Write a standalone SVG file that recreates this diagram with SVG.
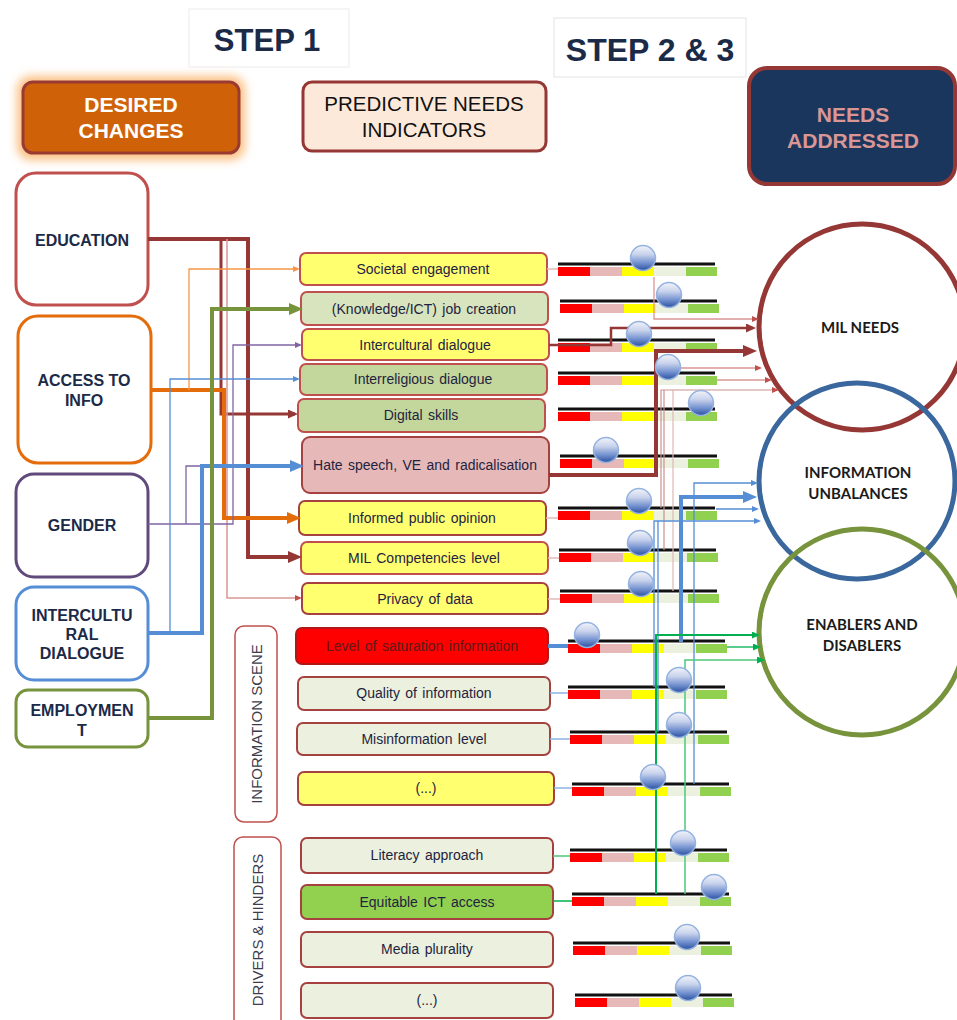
<svg xmlns="http://www.w3.org/2000/svg" width="957" height="1020" viewBox="0 0 957 1020">
  <style>
    .hdr { font-family: "Liberation Sans", Arial, sans-serif; font-weight: bold; fill: #1b2a47; text-anchor: middle; }
    .lbl { font-family: "Liberation Sans", Arial, sans-serif; font-weight: bold; font-size: 16px; fill: #1b2a47; text-anchor: middle; }
    .ind { font-family: "Liberation Sans", Arial, sans-serif; font-size: 14px; fill: #1f2340; text-anchor: middle; word-spacing: 1.5px; }
    .vert { font-family: "Liberation Sans", Arial, sans-serif; font-size: 15px; fill: #3c3c4c; text-anchor: middle; }
    .circ { font-family: Lato, "Liberation Sans", sans-serif; font-weight: bold; font-size: 15px; fill: #1a1a1a; text-anchor: middle; }
    .src { fill: #ffffff; stroke-width: 3; }
    .box { stroke: #c0504d; stroke-width: 2; }
    .box2 { stroke: #a5423f; stroke-width: 2; }
    .yel { fill: #ffff70; }
    .lgn { fill: #d7e4bd; }
    .mgn { fill: #c3d69b; }
    .pnk { fill: #e6b9b8; }
    .pal { fill: #ebf1de; }
    .grp { fill: #ffffff; stroke: #c0504d; stroke-width: 1.5; }
    .bar { stroke: #111111; stroke-width: 3; }
    .knob { fill: url(#knobFill); stroke: #93b2df; stroke-width: 1.5; }
    .c { fill: none; stroke-linejoin: miter; }
  </style>
  <defs>
    <filter id="glow" x="-20%" y="-40%" width="140%" height="180%">
      <feGaussianBlur stdDeviation="5"/>
    </filter>
    <linearGradient id="knobFill" x1="0" y1="0" x2="0" y2="1">
      <stop offset="0" stop-color="#f2f4fa"/>
      <stop offset="0.35" stop-color="#c9d3ec"/>
      <stop offset="0.7" stop-color="#7391cf"/>
      <stop offset="1" stop-color="#2b50a0"/>
    </linearGradient>
    <!-- segmented scale used by every slider -->
    <g id="scale">
      <rect x="0" y="3" width="32" height="9" fill="#ff0000"/>
      <rect x="32" y="3" width="32" height="9" fill="#e6b9b8"/>
      <rect x="64" y="3" width="32" height="9" fill="#ffff00"/>
      <rect x="96" y="3" width="32" height="9" fill="#ebf1de"/>
      <rect x="128" y="3" width="31" height="9" fill="#92d050"/>
      <line x1="0" y1="0" x2="157" y2="0" class="bar"/>
    </g>
    <marker id="aDrT" viewBox="0 0 14 12" markerWidth="14" markerHeight="12" refX="9" refY="6" orient="auto" markerUnits="userSpaceOnUse"><path d="M0,0 L14,6 L0,12 z" fill="#953735"/></marker>
    <marker id="aDr" viewBox="0 0 10 9" markerWidth="10" markerHeight="9" refX="7" refY="4.5" orient="auto" markerUnits="userSpaceOnUse"><path d="M0,0 L10,4.5 L0,9 z" fill="#953735"/></marker>
    <marker id="aPk" viewBox="0 0 7 6" markerWidth="7" markerHeight="6" refX="5" refY="3" orient="auto" markerUnits="userSpaceOnUse"><path d="M0,0 L7,3 L0,6 z" fill="#c0504d"/></marker>
    <marker id="aOrT" viewBox="0 0 14 12" markerWidth="14" markerHeight="12" refX="9" refY="6" orient="auto" markerUnits="userSpaceOnUse"><path d="M0,0 L14,6 L0,12 z" fill="#e46c0a"/></marker>
    <marker id="aOr" viewBox="0 0 7 6" markerWidth="7" markerHeight="6" refX="5" refY="3" orient="auto" markerUnits="userSpaceOnUse"><path d="M0,0 L7,3 L0,6 z" fill="#f79646"/></marker>
    <marker id="aPu" viewBox="0 0 7 6" markerWidth="7" markerHeight="6" refX="5" refY="3" orient="auto" markerUnits="userSpaceOnUse"><path d="M0,0 L7,3 L0,6 z" fill="#8064a2"/></marker>
    <marker id="aBlT" viewBox="0 0 14 12" markerWidth="14" markerHeight="12" refX="9" refY="6" orient="auto" markerUnits="userSpaceOnUse"><path d="M0,0 L14,6 L0,12 z" fill="#558ed5"/></marker>
    <marker id="aBl" viewBox="0 0 7 6" markerWidth="7" markerHeight="6" refX="5" refY="3" orient="auto" markerUnits="userSpaceOnUse"><path d="M0,0 L7,3 L0,6 z" fill="#558ed5"/></marker>
    <marker id="aOlT" viewBox="0 0 14 12" markerWidth="14" markerHeight="12" refX="9" refY="6" orient="auto" markerUnits="userSpaceOnUse"><path d="M0,0 L14,6 L0,12 z" fill="#77933c"/></marker>
    <marker id="aGn" viewBox="0 0 8 7" markerWidth="8" markerHeight="7" refX="6" refY="3.5" orient="auto" markerUnits="userSpaceOnUse"><path d="M0,0 L8,3.5 L0,7 z" fill="#00b050"/></marker>
  </defs>

  <rect width="957" height="1020" fill="#ffffff"/>

  <!-- column headers -->
  <g id="step1">
    <rect x="189" y="9" width="160" height="58" fill="#ffffff" stroke="#ebebeb" stroke-width="1"/>
    <text x="267" y="51" class="hdr" font-size="31">STEP 1</text>
  </g>
  <g id="step23">
    <rect x="554" y="18" width="192" height="59" fill="#ffffff" stroke="#e3e3e3" stroke-width="1"/>
    <text x="650" y="61" class="hdr" font-size="32">STEP 2 &amp; 3</text>
  </g>
  <g id="desired-changes">
    <rect x="17" y="76" width="228" height="84" rx="14" fill="#fbbf82" filter="url(#glow)"/>
    <rect x="23" y="82" width="216" height="71" rx="10" fill="#cf6208" stroke="#9b3a32" stroke-width="3"/>
    <text x="131" y="112" class="hdr" font-size="21" style="fill:#ffffff">DESIRED</text>
    <text x="131" y="138" class="hdr" font-size="21" style="fill:#ffffff">CHANGES</text>
  </g>
  <g id="predictive-needs">
    <rect x="303" y="82" width="243" height="69" rx="9" fill="#fde9d9" stroke="#953735" stroke-width="3"/>
    <text x="424" y="111" font-family="Liberation Sans, Arial, sans-serif" font-size="20.5" fill="#111111" text-anchor="middle">PREDICTIVE NEEDS</text>
    <text x="424" y="137" font-family="Liberation Sans, Arial, sans-serif" font-size="20.5" fill="#111111" text-anchor="middle">INDICATORS</text>
  </g>
  <g id="needs-addressed">
    <rect x="749" y="68" width="206" height="116" rx="18" fill="#1b365d" stroke="#953735" stroke-width="4"/>
    <text x="853" y="122" class="hdr" font-size="21" style="fill:#d99694">NEEDS</text>
    <text x="853" y="148" class="hdr" font-size="21" style="fill:#d99694">ADDRESSED</text>
  </g>

  <!-- desired changes -->
  <g id="education">
    <rect x="16" y="173" width="132" height="132" rx="20" class="src" stroke="#c0504d"/>
    <text x="82" y="246" class="lbl">EDUCATION</text>
  </g>
  <g id="access-to-info">
    <rect x="18" y="316" width="133" height="147" rx="20" class="src" stroke="#e46c0a"/>
    <text x="84" y="386" class="lbl">ACCESS TO</text>
    <text x="84" y="406" class="lbl">INFO</text>
  </g>
  <g id="gender">
    <rect x="16" y="474" width="132" height="103" rx="18" class="src" stroke="#604a7b"/>
    <text x="82" y="531" class="lbl">GENDER</text>
  </g>
  <g id="intercultural-dialogue-src">
    <rect x="16" y="587" width="132" height="93" rx="18" class="src" stroke="#558ed5"/>
    <text x="82" y="621" class="lbl">INTERCULTU</text>
    <text x="82" y="640" class="lbl">RAL</text>
    <text x="82" y="659" class="lbl">DIALOGUE</text>
  </g>
  <g id="employment">
    <rect x="16" y="690" width="132" height="57" rx="12" class="src" stroke="#77933c"/>
    <text x="82" y="716" class="lbl">EMPLOYMEN</text>
    <text x="82" y="736" class="lbl">T</text>
  </g>

  <!-- predictive needs indicators -->
  <g id="societal-engagement"><rect x="300" y="253" width="247" height="32" rx="6" class="box yel"/><text x="423" y="274" class="ind">Societal engagement</text></g>
  <g id="job-creation"><rect x="301" y="292" width="247" height="33" rx="6" class="box lgn"/><text x="424" y="314" class="ind">(Knowledge/ICT) job creation</text></g>
  <g id="intercultural-dialogue"><rect x="302" y="329" width="247" height="31" rx="6" class="box yel"/><text x="425" y="350" class="ind">Intercultural dialogue</text></g>
  <g id="interreligious-dialogue"><rect x="300" y="364" width="247" height="31" rx="6" class="box mgn"/><text x="423" y="384" class="ind">Interreligious dialogue</text></g>
  <g id="digital-skills"><rect x="298" y="399" width="247" height="33" rx="6" class="box mgn"/><text x="421" y="420" class="ind">Digital skills</text></g>
  <g id="hate-speech"><rect x="302" y="437" width="247" height="56" rx="8" class="box2 pnk"/><text x="425" y="470" class="ind">Hate speech, VE and radicalisation</text></g>
  <g id="informed-public-opinion"><rect x="299" y="501" width="247" height="34" rx="6" class="box2 yel"/><text x="422" y="523" class="ind">Informed public opinion</text></g>
  <g id="mil-competencies"><rect x="301" y="542" width="247" height="32" rx="6" class="box yel"/><text x="424" y="563" class="ind">MIL Competencies level</text></g>
  <g id="privacy-of-data"><rect x="302" y="583" width="246" height="31" rx="6" class="box2 yel"/><text x="425" y="604" class="ind">Privacy of data</text></g>

  <g id="information-scene">
    <rect x="235" y="626" width="42" height="196" rx="9" class="grp"/>
    <text transform="translate(261.5,724) rotate(-90)" class="vert">INFORMATION SCENE</text>
  </g>
  <g id="saturation"><rect x="296" y="628" width="252" height="36" rx="6" fill="#ff0000" stroke="#b01818" stroke-width="2"/><text x="422" y="651" class="ind" style="fill:#5c1a1a">Level of saturation information</text></g>
  <g id="quality"><rect x="298" y="677" width="252" height="33" rx="6" class="box2 pal"/><text x="424" y="698" class="ind">Quality of information</text></g>
  <g id="misinformation"><rect x="297" y="723" width="253" height="32" rx="6" class="box2 pal"/><text x="424" y="744" class="ind">Misinformation level</text></g>
  <g id="info-more"><rect x="298" y="772" width="256" height="33" rx="6" class="box2 yel"/><text x="426" y="793" class="ind">(...)</text></g>

  <g id="drivers-hinders">
    <rect x="234" y="837" width="47" height="200" rx="9" class="grp"/>
    <text transform="translate(262.5,930) rotate(-90)" class="vert">DRIVERS &amp; HINDERS</text>
  </g>
  <g id="literacy"><rect x="301" y="838" width="252" height="35" rx="6" class="box2 pal"/><text x="427" y="860" class="ind">Literacy approach</text></g>
  <g id="equitable-ict"><rect x="301" y="885" width="252" height="34" rx="6" fill="#92d050" class="box2"/><text x="427" y="907" class="ind">Equitable ICT access</text></g>
  <g id="media-plurality"><rect x="301" y="932" width="252" height="35" rx="6" class="box2 pal"/><text x="427" y="954" class="ind">Media plurality</text></g>
  <g id="drivers-more"><rect x="301" y="983" width="252" height="35" rx="6" class="box2 pal"/><text x="427" y="1005" class="ind">(...)</text></g>

  <!-- needs addressed -->
  <g id="mil-needs">
    <circle cx="862" cy="327" r="103" fill="none" stroke="#953735" stroke-width="5"/>
    <text x="860" y="333" class="circ">MIL NEEDS</text>
  </g>
  <g id="information-unbalances">
    <circle cx="857" cy="481" r="98" fill="none" stroke="#3a679d" stroke-width="5"/>
    <text x="858" y="478" class="circ">INFORMATION</text>
    <text x="858" y="499" class="circ">UNBALANCES</text>
  </g>
  <g id="enablers-disablers">
    <circle cx="862" cy="632" r="103" fill="none" stroke="#77933c" stroke-width="5"/>
    <text x="862" y="630" class="circ">ENABLERS AND</text>
    <text x="862" y="651" class="circ">DISABLERS</text>
  </g>

  <!-- slider scales -->
  <g id="scales">
    <use href="#scale" x="558" y="264"/>
    <use href="#scale" x="560" y="301"/>
    <use href="#scale" x="558" y="340"/>
    <use href="#scale" x="558" y="373"/>
    <use href="#scale" x="558" y="409"/>
    <use href="#scale" x="560" y="456"/>
    <use href="#scale" x="558" y="508"/>
    <use href="#scale" x="559" y="550"/>
    <use href="#scale" x="560" y="591"/>
    <use href="#scale" x="568" y="641"/>
    <use href="#scale" x="568" y="687"/>
    <use href="#scale" x="570" y="732"/>
    <use href="#scale" x="572" y="784"/>
    <use href="#scale" x="570" y="850"/>
    <use href="#scale" x="572" y="894"/>
    <use href="#scale" x="573" y="943"/>
    <use href="#scale" x="575" y="995"/>
  </g>

  <g id="connectors" class="c">
    <!-- desired changes to indicators -->
    <path d="M148,239 H248 V557 H297" stroke="#953735" stroke-width="4" marker-end="url(#aDrT)"/>
    <path d="M221,239 V414 H295" stroke="#953735" stroke-width="3" marker-end="url(#aDr)"/>
    <path d="M227,239 V598 H300" stroke="#d99694" stroke-width="1.5" marker-end="url(#aPk)"/>
    <path d="M151,390 H224 V518 H296" stroke="#e46c0a" stroke-width="4" marker-end="url(#aOrT)"/>
    <path d="M189,390 V269 H298" stroke="#f79646" stroke-width="1.3" marker-end="url(#aOr)"/>
    <path d="M148,524 H233 V345 H300" stroke="#8064a2" stroke-width="1.3" marker-end="url(#aPu)"/>
    <path d="M186,524 V466 H202" stroke="#8064a2" stroke-width="1.3"/>
    <path d="M148,633 H202 V466 H299" stroke="#558ed5" stroke-width="4" marker-end="url(#aBlT)"/>
    <path d="M170,633 V379 H298" stroke="#558ed5" stroke-width="1.3" marker-end="url(#aBl)"/>
    <path d="M148,718 H212 V309 H298" stroke="#77933c" stroke-width="4" marker-end="url(#aOlT)"/>

    <!-- indicators to scales -->
    <path d="M547,269 H558" stroke="#e6b9b8" stroke-width="1.5"/>
    <path d="M546,518 H558" stroke="#e6b9b8" stroke-width="1.5"/>
    <path d="M548,558 H559" stroke="#e6b9b8" stroke-width="1.5"/>
    <path d="M548,599 H560" stroke="#e6b9b8" stroke-width="1.5"/>
    <path d="M548,646 H568" stroke="#558ed5" stroke-width="4"/>
    <path d="M550,693 H568" stroke="#8db3e2" stroke-width="1.5"/>
    <path d="M550,739 H570" stroke="#8db3e2" stroke-width="1.5"/>
    <path d="M554,788 H572" stroke="#8db3e2" stroke-width="1.5"/>
    <path d="M553,856 H570" stroke="#4cc97a" stroke-width="1.5"/>
    <path d="M553,901 H572" stroke="#00b050" stroke-width="1.5"/>

    <!-- scales to MIL needs -->
    <path d="M654,277 V319 H757" stroke="#d99694" stroke-width="1.3" marker-end="url(#aPk)"/>
    <path d="M549,345 H611 V328 H753" stroke="#953735" stroke-width="2.5" marker-end="url(#aDr)"/>
    <path d="M549,475 H656 V351 H752" stroke="#953735" stroke-width="4" marker-end="url(#aDrT)"/>
    <path d="M680,368 H760" stroke="#d99694" stroke-width="1.3" marker-end="url(#aPk)"/>
    <path d="M717,380 H770" stroke="#d99694" stroke-width="1.3" marker-end="url(#aPk)"/>
    <path d="M661,508 V390 H777" stroke="#c9928f" stroke-width="1.2" marker-end="url(#aPk)"/>
    <path d="M664,550 V390" stroke="#c9928f" stroke-width="1.2"/>
    <path d="M673,591 V390" stroke="#e0b8b6" stroke-width="1.2"/>

    <!-- scales to information unbalances -->
    <path d="M694,784 V483 H756" stroke="#558ed5" stroke-width="1.3" marker-end="url(#aBl)"/>
    <path d="M681,642 V497 H752" stroke="#558ed5" stroke-width="4" marker-end="url(#aBlT)"/>
    <path d="M716,509 H757" stroke="#558ed5" stroke-width="1.3" marker-end="url(#aBl)"/>
    <path d="M654,687 V521 H759" stroke="#558ed5" stroke-width="1.3" marker-end="url(#aBl)"/>
    <path d="M658,732 V521" stroke="#558ed5" stroke-width="1.3"/>

    <!-- scales to enablers and disablers -->
    <path d="M656,894 V635 H758" stroke="#00b050" stroke-width="2" marker-end="url(#aGn)"/>
    <path d="M727,647 H759" stroke="#00b050" stroke-width="1.3" marker-end="url(#aGn)"/>
    <path d="M685,894 V660 H763" stroke="#4cc97a" stroke-width="1.5" marker-end="url(#aGn)"/>
  </g>

  <!-- slider knobs -->
  <g id="knobs">
    <circle cx="643" cy="258" r="12.5" class="knob"/>
    <circle cx="669" cy="295" r="12.5" class="knob"/>
    <circle cx="639" cy="334" r="12.5" class="knob"/>
    <circle cx="668" cy="367" r="12.5" class="knob"/>
    <circle cx="701" cy="403" r="12.5" class="knob"/>
    <circle cx="606" cy="450" r="12.5" class="knob"/>
    <circle cx="639" cy="501" r="12.5" class="knob"/>
    <circle cx="640" cy="543" r="12.5" class="knob"/>
    <circle cx="641" cy="584" r="12.5" class="knob"/>
    <circle cx="587" cy="635" r="12.5" class="knob"/>
    <circle cx="679" cy="680" r="12.5" class="knob"/>
    <circle cx="679" cy="725" r="12.5" class="knob"/>
    <circle cx="653" cy="777" r="12.5" class="knob"/>
    <circle cx="683" cy="843" r="12.5" class="knob"/>
    <circle cx="714" cy="887" r="12.5" class="knob"/>
    <circle cx="687" cy="937" r="12.5" class="knob"/>
    <circle cx="688" cy="988" r="12.5" class="knob"/>
  </g>
</svg>
